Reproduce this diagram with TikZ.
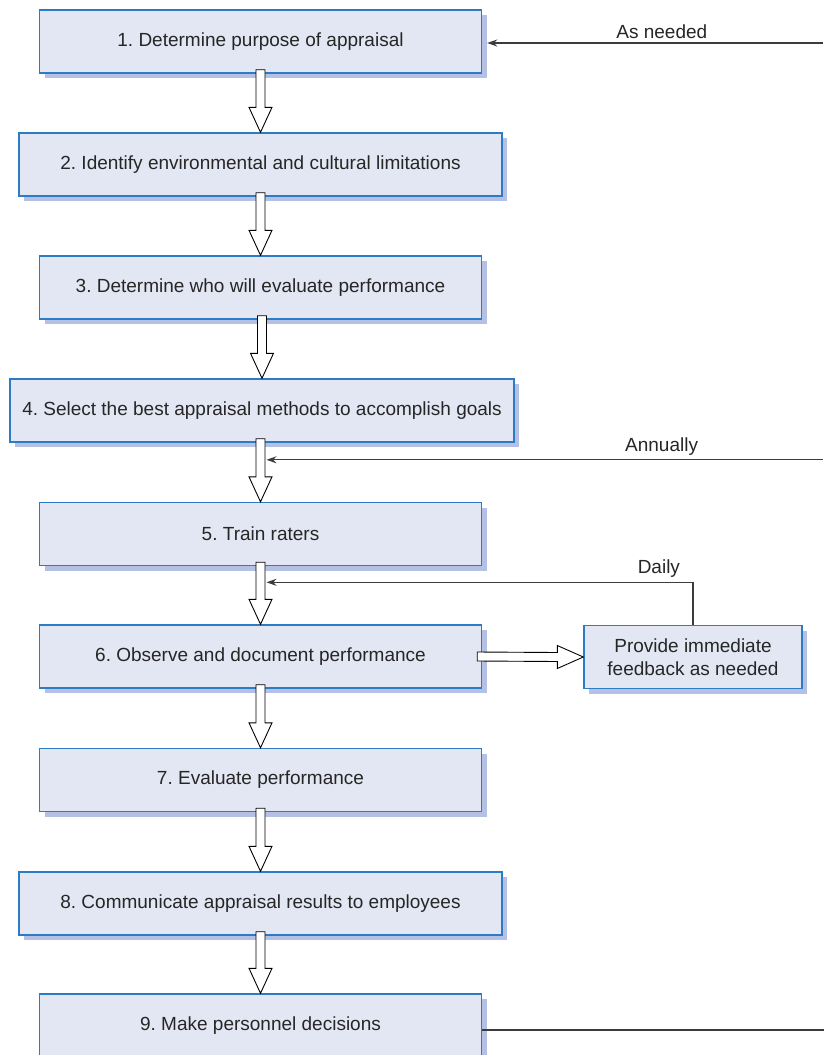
\documentclass[tikz,border=0pt]{standalone}
\usepackage{fontspec}
\setmainfont{Liberation Sans}
\usetikzlibrary{arrows.meta, calc, shadows}

\definecolor{boxfill}{RGB}{227,231,243}
\definecolor{boxline}{RGB}{44,123,197}
\definecolor{boxshade}{RGB}{180,193,228}
\definecolor{linkgray}{RGB}{60,60,60}

\tikzset{
    stepbox/.style={draw=boxline, fill=boxfill, line width=1.4pt, minimum height=63pt, inner sep=0pt,
        text=black!85, font=\fontsize{19}{23}\selectfont\frenchspacing,
        general shadow={fill=boxshade, shadow xshift=5pt, shadow yshift=-5pt}},
    link/.style={draw=linkgray, line width=1.3pt, -{Stealth[length=10pt, width=7pt]}},
    plainlink/.style={draw=linkgray, line width=1.3pt},
    hollow/.style={draw=black, fill=white, line width=0.9pt, line join=miter},
    lbl/.style={font=\fontsize{19}{23}\selectfont, text=black!85, inner sep=2pt},
}

\newcommand{\flowdown}[2]{%
    \draw[hollow] ($(#2.north |- #1.south)+(-4.5,-4)$) -- ($(#2.north)+(-4.5,-25)$)
        -- ($(#2.north)+(-11.5,-25)$) -- (#2.north) -- ($(#2.north)+(11.5,-25)$)
        -- ($(#2.north)+(4.5,-25)$) -- ($(#2.north |- #1.south)+(4.5,-4)$) -- cycle;}
\newcommand{\flowright}[2]{%
    \draw[hollow] ($(#1.east)+(-5,-4.5)$) -- ($(#2.west)+(-26,-4.5)$)
        -- ($(#2.west)+(-26,-11.5)$) -- (#2.west) -- ($(#2.west)+(-26,11.5)$)
        -- ($(#2.west)+(-26,4.5)$) -- ($(#1.east)+(-5,4.5)$) -- cycle;}

\begin{document}
\begin{tikzpicture}[x=1pt, y=-1pt]
    \useasboundingbox (0,0) rectangle (823,1055);
    % steps
    \node[stepbox, minimum width=442pt] (b1) at (260.5,41.5) {1. Determine purpose of appraisal};
    \node[stepbox, minimum width=483pt] (b2) at (260.5,164.5) {2. Identify environmental and cultural limitations};
    \node[stepbox, minimum width=442pt] (b3) at (260.5,287.5) {3. Determine who will evaluate performance};
    \node[stepbox, minimum width=504pt] (b4) at (262,410.5) {4. Select the best appraisal methods to accomplish goals};
    \node[stepbox, minimum width=442pt] (b5) at (260.5,534) {5. Train raters};
    \node[stepbox, minimum width=442pt] (b6) at (260.5,656.5) {6. Observe and document performance};
    \node[stepbox, minimum width=442pt] (b7) at (260.5,780) {7. Evaluate performance};
    \node[stepbox, minimum width=483pt] (b8) at (260.5,903.5) {8. Communicate appraisal results to employees};
    \node[stepbox, minimum width=442pt] (b9) at (260.5,1025.5) {9. Make personnel decisions};
    \node[stepbox, minimum width=218pt, align=center] (fb) at (693,657) {Provide immediate\\feedback as needed};
    % hollow arrows
    \flowdown{b1}{b2}
    \flowdown{b2}{b3}
    \flowdown{b3}{b4}
    \flowdown{b4}{b5}
    \flowdown{b5}{b6}
    \flowdown{b6}{b7}
    \flowdown{b7}{b8}
    \flowdown{b8}{b9}
    \flowright{b6}{fb}
    % loops back
    \coordinate (needin) at (823,43);
    \draw[link] (needin) -- ($(needin -| b1.east)+(5,0)$) node[lbl, pos=0.48, above=2pt] {As needed};
    \coordinate (yearin) at ($(b5.north)+(562.5,-42)$);
    \draw[link] (yearin) -- ($(b5.north)+(6,-42)$) node[lbl, pos=0.29, above=2pt] {Annually};
    \draw[link] (fb.north) |- ($(b6.north)+(6,-42)$) node[lbl, pos=0.54, above=2pt] {Daily};
    \coordinate (decout) at ($(b9.east)+(342,4.5)$);
    \draw[plainlink] ($(b9.east)+(0,4.5)$) -- (decout);
\end{tikzpicture}
\end{document}
